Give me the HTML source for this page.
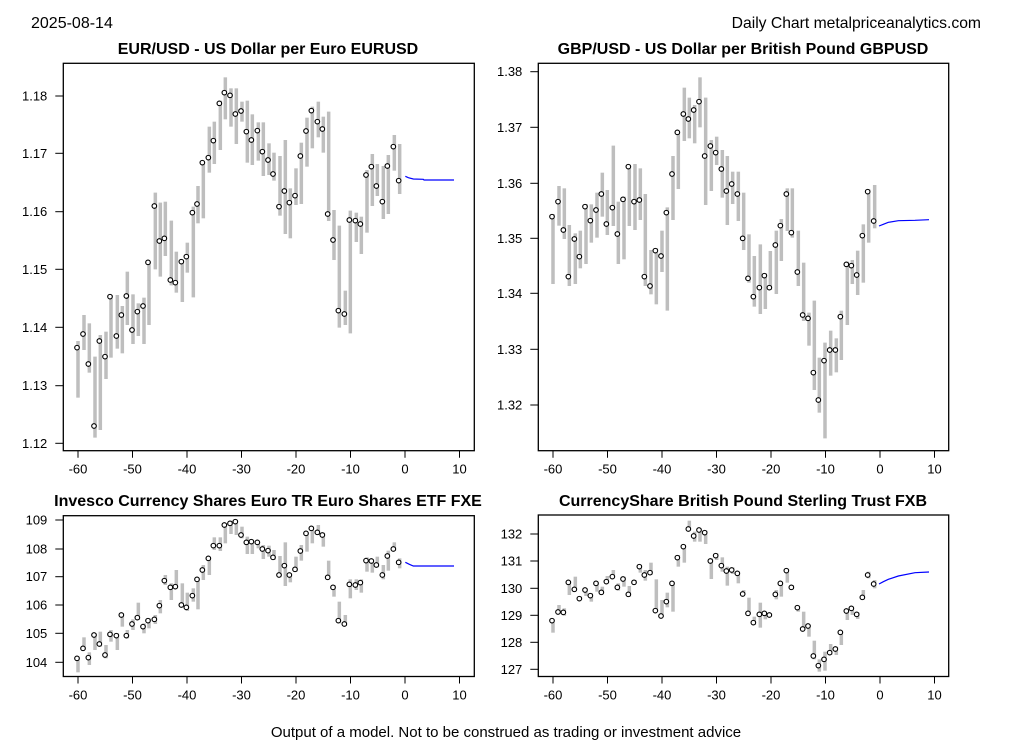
<!DOCTYPE html>
<html><head><meta charset="utf-8"><style>
body{margin:0;background:#fff;}
svg{display:block;font-family:"Liberation Sans",Arial,sans-serif;}
</style></head><body>
<svg id="s" width="1013" height="741" xmlns="http://www.w3.org/2000/svg">
<rect width="1013" height="741" fill="#fff"/>
<text x="31" y="28" font-size="16">2025-08-14</text>
<text x="981" y="28" font-size="15.7" text-anchor="end">Daily Chart metalpriceanalytics.com</text>
<text x="268" y="54" font-size="16" font-weight="bold" text-anchor="middle">EUR/USD - US Dollar per Euro EURUSD</text>
<text x="743" y="54" font-size="16" font-weight="bold" text-anchor="middle">GBP/USD - US Dollar per British Pound GBPUSD</text>
<text x="268" y="506" font-size="16" font-weight="bold" text-anchor="middle">Invesco Currency Shares Euro TR Euro Shares ETF FXE</text>
<text x="743" y="506" font-size="16" font-weight="bold" text-anchor="middle">CurrencyShare British Pound Sterling Trust FXB</text>
<text x="506" y="737" font-size="15" text-anchor="middle">Output of a model. Not to be construed as trading or investment advice</text>
<g id="g"></g>
</svg>
<script>
var NS="http://www.w3.org/2000/svg",G=document.getElementById("g");
function el(t,a,txt){var e=document.createElementNS(NS,t);for(var k in a)e.setAttribute(k,a[k]);if(txt!==undefined)e.textContent=txt;G.appendChild(e);return e;}
function panel(o){
 el("rect",{x:o.L,y:o.T,width:o.R-o.L,height:o.B-o.T,fill:"none",stroke:"#000","stroke-width":1.3});
 o.yt.forEach(function(t){el("line",{x1:o.L-8,x2:o.L,y1:t[1],y2:t[1],stroke:"#000"});
  el("text",{x:o.L-16,y:t[1]+4.5,"font-size":13,"text-anchor":"end"},t[0]);});
 for(var i=0;i<8;i++){var x=o.x0+i*54.5;var v=-60+i*10;
  el("line",{x1:x,x2:x,y1:o.B,y2:o.B+7,stroke:"#000"});
  el("text",{x:x,y:o.B+23,"font-size":13,"text-anchor":"middle"},String(v));}
 o.bars.forEach(function(b){var x=o.ox+b[0]/3,t=o.oy+b[1]/3,bb=o.oy+b[2]/3,d=o.oy+b[3]/3;
  el("line",{x1:x,x2:x,y1:t,y2:bb,stroke:"#bebebe","stroke-width":3.5});
  el("circle",{cx:x-1,cy:d,r:2.3,fill:"#fff",stroke:"#000","stroke-width":1.1});});
 var p=o.blue.map(function(q){return (o.bx+q[0]/3)+","+(o.oy+q[1]/3);}).join(" ");
 el("polyline",{points:p,fill:"none",stroke:"#0000ff","stroke-width":1.2});
}
var b1a=[[54,843,1013,863],[72,765,870,822],[88,790,938,912],[105,890,1133,1098],[121,825,1110,843],[138,815,957,890],[153,705,893,710],[172,705,866,828],[187,738,880,765],[202,635,795,708],[219,703,852,810],[235,730,828,755],[252,713,852,738],[267,605,795,607],[286,398,628,438],[301,428,650,543],[316,425,588,535],[334,482,676,660],[349,575,698,668],[367,600,726,605],[382,548,638,590],[400,440,712,458],[414,378,490,432],[430,305,475,308],[448,200,338,293],[463,185,312,242],[481,122,270,130],[496,52,178,98],[513,85,200,106],[529,85,252,162],[546,125,185,153],[562,122,308,215],[577,163,315,240],[595,187,302,212],[610,187,348,275],[627,250,345,300]];
var b1b=[[42,278,362,342],[60,288,467,440],[76,240,522,393],[91,385,535,428],[108,325,435,407],[124,248,432,288],[141,173,320,213],[157,140,265,152],[175,125,232,185],[190,170,278,207],[206,155,483,462],[222,450,600,540],[238,497,803,752],[256,692,795,762],[271,452,820,480],[289,458,546,482],[304,470,582,492],[321,330,518,345],[337,282,438,320],[352,312,408,378],[370,318,477,425],[385,285,462,318],[403,225,332,260],[419,252,402,362]];
b1b=b1b.map(function(b){return [b[0]+600,b[1],b[2],b[3]];});
panel({L:63.3,R:474.3,T:63.3,B:450.7,x0:78,ox:60,oy:60,bx:260,
 yt:[["1.18",96],["1.17",153.3],["1.16",211.7],["1.15",269.3],["1.14",327.3],["1.13",385.7],["1.12",443.3]],
 bars:b1a.concat(b1b),blue:[[436,349],[445,353],[460,357],[490,358],[492,360],[582,360]]});
var b2a=[[54,462,672,470],[72,378,497,425],[88,385,537,510],[103,495,678,650],[121,520,672,537],[136,512,625,590],[153,432,612,440],[169,433,548,482],[186,398,533,450],[202,338,470,402],[217,390,525,492],[235,257,498,443],[250,425,612,522],[267,410,598,418],[283,318,498,320],[300,312,510,425],[316,325,480,420],[331,402,678,650],[348,570,703,678],[364,565,733,572],[381,512,636,588],[397,442,752,458],[414,288,480,342],[430,215,387,217],[448,83,243,162],[463,113,235,177],[479,135,250,150],[495,52,202,125],[512,113,435,288],[529,240,393,258],[545,230,315,278],[562,270,413,327],[577,288,495,393],[593,335,432,372],[610,335,483,402],[626,398,570,535]];
var b2b=[[42,523,668,655],[58,588,740,710],[76,553,762,683],[91,640,747,647],[106,573,690,683],[124,512,702,555],[139,477,603,497],[157,385,513,402],[172,385,533,518],[190,512,678,636],[206,608,783,765],[222,758,857,775],[238,722,990,938],[253,893,1058,1020],[270,848,1135,902],[287,812,947,870],[304,835,937,870],[319,752,900,770],[337,605,795,613],[352,600,672,617],[368,572,705,645],[385,493,668,527],[401,388,548,395],[419,375,505,483]];
b2b=b2b.map(function(b){return [b[0]+600,b[1],b[2],b[3]];});
panel({L:538.3,R:948.7,T:63.3,B:450.7,x0:553,ox:535,oy:60,bx:735,
 yt:[["1.38",71.7],["1.37",127.3],["1.36",183.3],["1.35",238.3],["1.34",293.3],["1.33",349.3],["1.32",405]],
 bars:b2a.concat(b2b),blue:[[432,498],[445,493],[460,487],[490,482],[540,481],[582,479]]});
var b3a=[[54,530,577,535],[72,472,510,505],[88,517,555,533],[105,460,510,465],[121,455,500,492],[138,495,535,525],[153,450,485,463],[172,460,510,467],[187,400,440,405],[202,450,475,467],[219,418,450,432],[235,368,420,413],[252,430,460,440],[267,415,445,422],[286,405,432,418],[301,360,400,377],[316,285,315,302],[334,310,360,322],[349,270,325,320],[367,310,380,375],[382,338,393,382],[400,325,365,347],[414,295,388,298],[430,255,300,270],[448,232,285,235],[463,172,210,197],[481,172,213,197],[496,130,190,135],[513,122,162,130],[529,122,165,125],[546,140,175,165],[562,170,222,187],[577,180,222,185],[595,185,205,187],[610,195,237,207],[627,197,230,212]];
var b3b=[[42,210,240,232],[60,228,292,285],[76,187,318,257],[91,280,307,285],[108,230,275,268],[124,195,242,213],[141,157,215,160],[157,140,190,145],[175,135,165,157],[190,158,200,165],[206,242,295,292],[222,315,350,322],[238,365,430,422],[256,405,438,432],[271,298,355,313],[289,298,330,315],[304,298,338,308],[321,232,275,242],[337,238,278,243],[352,230,262,255],[370,255,298,285],[385,212,272,228],[403,187,213,207],[419,235,265,247]];
b3b=b3b.map(function(b){return [b[0]+600,b[1],b[2],b[3]];});
panel({L:63.3,R:474.3,T:515.7,B:676.5,x0:78,ox:60,oy:480,bx:260,
 yt:[["109",520],["108",549],["107",576.7],["106",605],["105",633.3],["104",662.3]],
 bars:b3a.concat(b3b),blue:[[436,247],[448,253],[460,258],[582,258]]});
var b4a=[[54,360,398,362],[72,315,340,336],[88,325,347,337],[103,243,285,247],[121,230,270,268],[136,290,300,296],[153,265,288,270],[169,280,305,287],[186,245,275,250],[202,260,280,277],[217,228,250,245],[235,210,235,230],[250,250,272,262],[267,230,260,237],[283,258,290,283],[300,240,250,247],[316,195,218,200],[331,210,242,225],[348,188,225,218],[364,238,335,332],[381,300,350,348],[397,278,322,305],[414,245,335,250],[430,165,200,173],[448,135,188,140],[463,62,92,87],[479,95,125,108],[495,85,125,90],[512,92,132,98],[529,175,237,183],[545,160,180,167],[562,172,215,197],[577,200,257,213],[593,202,222,210],[610,215,250,220],[626,270,285,282]];
var b4b=[[42,293,340,340],[58,350,375,368],[76,308,383,343],[91,335,358,340],[106,340,350,345],[124,270,298,283],[139,245,290,250],[157,207,248,212],[172,255,268,262],[190,318,335,323],[206,335,390,387],[222,375,410,378],[238,422,478,468],[253,478,515,497],[270,455,512,478],[287,432,465,458],[304,440,465,447],[319,393,435,397],[337,330,360,333],[352,320,345,325],[368,337,357,343],[385,270,298,292],[401,215,235,225],[419,240,265,252]];
b4b=b4b.map(function(b){return [b[0]+600,b[1],b[2],b[3]];});
panel({L:538.3,R:948.7,T:515,B:676.5,x0:553,ox:535,oy:500,bx:735,
 yt:[["132",534],["131",561],["130",588.3],["129",615.3],["128",642.3],["127",669.3]],
 bars:b4a.concat(b4b),blue:[[432,252],[445,245],[460,238],[490,228],[540,218],[582,216]]});
</script>
</body></html>
